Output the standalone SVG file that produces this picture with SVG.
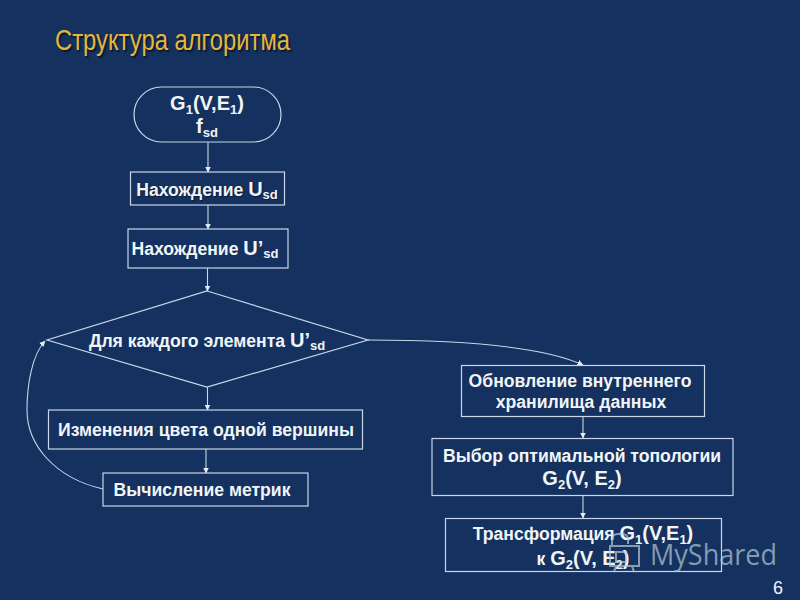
<svg xmlns="http://www.w3.org/2000/svg" width="800" height="600" viewBox="0 0 800 600">
<style>
.n{fill:none;stroke:#c9d6e8;stroke-width:1.2}
.c{fill:none;stroke:#c9d6e8;stroke-width:1.1}
text{font-family:"Liberation Sans",Arial,sans-serif;font-weight:bold;fill:#f2f5f8;font-size:17.6px;text-anchor:middle}
.s{font-size:13px}
.b{font-size:20px}
.t{font-weight:normal;font-size:29px;text-anchor:start;fill:#e6b63a;text-shadow:2px 2px 1px #0a1a35}
.d{text-shadow:1px 1px 1px #0a1a35}
.w{font-family:"Open Sans","Liberation Sans",sans-serif;font-weight:normal;font-size:29px;fill:#b9cbd6;fill-opacity:.7;text-anchor:start}
.i{fill:none;stroke:#b9cbd6;stroke-opacity:.7;stroke-width:2}
.p{font-weight:normal;font-size:18px}
</style>
<defs>
<marker id="a" viewBox="0 0 6 6" refX="5.500" refY="3" markerWidth="6" markerHeight="6" markerUnits="userSpaceOnUse" orient="auto"><path d="M0 0L6 3L0 6Z" fill="#e4ebf3"/></marker>
</defs>
<rect width="800" height="600" fill="#14315f"/>
<g id="title">
<text class="t" x="55" y="50" textLength="235" lengthAdjust="spacingAndGlyphs">Структура алгоритма</text>
</g>
<g id="connectors">
<path class="c" marker-end="url(#a)" d="M208 142V172"/>
<path class="c" marker-end="url(#a)" d="M208 205V229"/>
<path class="c" marker-end="url(#a)" d="M207.500 268V291"/>
<path class="c" marker-end="url(#a)" d="M207.500 387V410"/>
<path class="c" marker-end="url(#a)" d="M206 449V473"/>
<path class="c" marker-end="url(#a)" d="M103 489C55 478 27 445 27 410C27 385 32 355 45 341"/>
<path class="c" marker-end="url(#a)" d="M368 340C450 340 540 345 583 365"/>
<path class="c" marker-end="url(#a)" d="M583 416V438"/>
<path class="c" marker-end="url(#a)" d="M583 496V518"/>
</g>
<g id="start"><rect class="n" x="134" y="87" width="147" height="55" rx="27.500"/>
<text x="207" y="110" class="b">G<tspan class="s" dy="4">1</tspan><tspan dy="-4">(V,E</tspan><tspan class="s" dy="4">1</tspan><tspan dy="-4">)</tspan></text>
<text x="207" y="133" class="b">f<tspan class="s" dy="4">sd</tspan></text></g>
<g id="find-u"><rect class="n" x="130.500" y="172" width="154" height="33"/>
<text class="d" x="207" y="196">Нахождение <tspan font-size="20">U</tspan><tspan class="s" dy="3">sd</tspan></text></g>
<g id="find-u2"><rect class="n" x="128" y="229" width="160" height="39"/>
<text x="205" y="255">Нахождение <tspan font-size="20">U’</tspan><tspan class="s" dy="3">sd</tspan></text></g>
<g id="each"><path class="n" d="M207 291L368 340L207 387L47 340Z"/>
<text x="207" y="347">Для каждого элемента <tspan font-size="20">U’</tspan><tspan class="s" dy="3">sd</tspan></text></g>
<g id="recolor"><rect class="n" x="48.500" y="410" width="314" height="39"/>
<text x="206" y="436">Изменения цвета одной вершины</text></g>
<g id="metrics"><rect class="n" x="103" y="473" width="205" height="33"/>
<text x="202" y="496">Вычисление метрик</text></g>
<g id="update"><rect class="n" x="461.500" y="365.500" width="243" height="51"/>
<text x="580" y="387">Обновление внутреннего</text>
<text x="581" y="408">хранилища данных</text></g>
<g id="choose"><rect class="n" x="432" y="438.500" width="301" height="57"/>
<text x="582" y="462">Выбор оптимальной топологии</text>
<text x="582" y="485" class="b">G<tspan class="s" dy="4">2</tspan><tspan dy="-4">(V, E</tspan><tspan class="s" dy="4">2</tspan><tspan dy="-4">)</tspan></text></g>
<g id="transform"><rect class="n" x="445.500" y="518.500" width="276" height="53"/>
<text x="583" y="540">Трансформация <tspan font-size="20">G</tspan><tspan class="s" dy="4">1</tspan><tspan font-size="20" dy="-4">(V,E</tspan><tspan class="s" dy="4">1</tspan><tspan font-size="20" dy="-4">)</tspan></text>
<text x="583" y="565">к <tspan font-size="20">G</tspan><tspan class="s" dy="4">2</tspan><tspan font-size="20" dy="-4">(V, E</tspan><tspan class="s" dy="4">2</tspan><tspan font-size="20" dy="-4">)</tspan></text></g>
<g id="watermark"><path class="i" d="M612 546V540Q612 534 618 534H622Q628 534 628 540V544M610 546H639V566H610ZM616 552H626V562H616ZM616 566L614 572M632 566L634 572"/>
<text class="w" x="650" y="565" textLength="127" lengthAdjust="spacingAndGlyphs">MyShared</text></g>
<text class="p" x="778" y="594">6</text>
</svg>
